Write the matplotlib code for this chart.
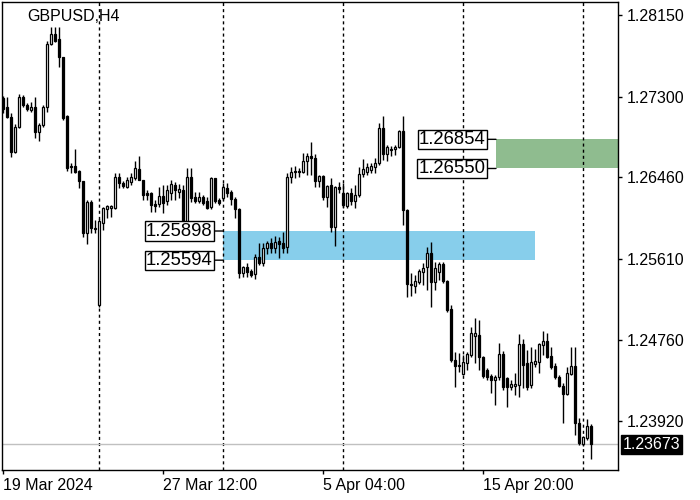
import numpy as np
import matplotlib.pyplot as plt

plt.rcParams['font.family'] = ['Liberation Sans', 'DejaVu Sans']

symbol_title = "GBPUSD,H4"

# H4 bars (one entry per bar)
opens = [1.27284, 1.27190, 1.27086, 1.26721, 1.26982, 1.27295, 1.27211, 1.27159, 1.27190, 1.26930,
         1.27003, 1.27190, 1.27847, 1.27951, 1.27899, 1.27712, 1.27096, 1.26575, 1.26575, 1.26523,
         1.26419, 1.25876, 1.26200, 1.25928, 1.25126, 1.25981, 1.26127, 1.26137, 1.26137, 1.26460,
         1.26398, 1.26356, 1.26408, 1.26450, 1.26544, 1.26429, 1.26293, 1.26293, 1.26179, 1.26179,
         1.26262, 1.26210, 1.26293, 1.26377, 1.26304, 1.26325, 1.25939, 1.26460, 1.26252, 1.26210,
         1.26252, 1.26210, 1.26147, 1.26450, 1.26220, 1.26241, 1.26346, 1.26304, 1.26231, 1.26127,
         1.25459, 1.25522, 1.25480, 1.25449, 1.25626, 1.25563, 1.25720, 1.25772, 1.25720, 1.25793,
         1.25772, 1.25730, 1.26460, 1.26523, 1.26523, 1.26512, 1.26627, 1.26679, 1.26658, 1.26419,
         1.26471, 1.26252, 1.26377, 1.25939, 1.26356, 1.26293, 1.26158, 1.26293, 1.26210, 1.26273,
         1.26492, 1.26512, 1.26533, 1.26565, 1.26606, 1.26971, 1.26700, 1.26752, 1.26752, 1.26773,
         1.26940, 1.26116, 1.25344, 1.25324, 1.25365, 1.25470, 1.25522, 1.25668, 1.25365, 1.25470,
         1.25553, 1.25376, 1.25084, 1.24552, 1.24500, 1.24406, 1.24521, 1.24604, 1.24802, 1.24813,
         1.24583, 1.24448, 1.24385, 1.24343, 1.24375, 1.24615, 1.24364, 1.24270, 1.24281, 1.24291,
         1.24719, 1.24521, 1.24291, 1.24510, 1.24531, 1.24708, 1.24750, 1.24594, 1.24489, 1.24375,
         1.24281, 1.24197, 1.24406, 1.24489, 1.23895, 1.23676, 1.23739, 1.23864]
highs = [1.27305, 1.27295, 1.27128, 1.27013, 1.27326, 1.27315, 1.27232, 1.27242, 1.27295, 1.27023,
         1.27211, 1.27879, 1.28024, 1.28024, 1.28024, 1.27712, 1.27107, 1.26606, 1.26752, 1.26533,
         1.26419, 1.26220, 1.26220, 1.26012, 1.26022, 1.26147, 1.26168, 1.26168, 1.26502, 1.26502,
         1.26419, 1.26460, 1.26502, 1.26627, 1.26679, 1.26429, 1.26325, 1.26304, 1.26220, 1.26356,
         1.26377, 1.26377, 1.26429, 1.26408, 1.26387, 1.26377, 1.26554, 1.26554, 1.26304, 1.26304,
         1.26273, 1.26252, 1.26460, 1.26450, 1.26241, 1.26398, 1.26398, 1.26325, 1.26252, 1.26137,
         1.25532, 1.25563, 1.25501, 1.25657, 1.25772, 1.25772, 1.25793, 1.25824, 1.25845, 1.25835,
         1.25887, 1.26502, 1.26565, 1.26575, 1.26554, 1.26711, 1.26711, 1.26825, 1.26700, 1.26481,
         1.26481, 1.26377, 1.26450, 1.26366, 1.26408, 1.26398, 1.26304, 1.26346, 1.26377, 1.26565,
         1.26648, 1.26606, 1.26606, 1.26658, 1.27023, 1.27096, 1.26794, 1.26784, 1.26794, 1.26950,
         1.27096, 1.26127, 1.25459, 1.25438, 1.25501, 1.25563, 1.25730, 1.25782, 1.25574, 1.25574,
         1.25574, 1.25386, 1.25126, 1.24635, 1.24625, 1.24604, 1.24635, 1.24896, 1.24990, 1.24969,
         1.24594, 1.24469, 1.24406, 1.24396, 1.24729, 1.24646, 1.24375, 1.24343, 1.24416, 1.24823,
         1.24771, 1.24656, 1.24688, 1.24667, 1.24729, 1.24854, 1.24834, 1.24688, 1.24521, 1.24396,
         1.24312, 1.24479, 1.24688, 1.24688, 1.23947, 1.23759, 1.23937, 1.23885]
lows = [1.27128, 1.27076, 1.26669, 1.26711, 1.26971, 1.27190, 1.27149, 1.27138, 1.26867, 1.26836,
        1.26982, 1.27138, 1.27837, 1.27868, 1.27607, 1.27055, 1.26523, 1.26502, 1.26502, 1.26346,
        1.25835, 1.25762, 1.25876, 1.25876, 1.25105, 1.25908, 1.26033, 1.26043, 1.26127, 1.26346,
        1.26346, 1.26346, 1.26377, 1.26429, 1.26429, 1.26220, 1.26220, 1.26095, 1.26095, 1.26147,
        1.26085, 1.26168, 1.26220, 1.26220, 1.26241, 1.25887, 1.25908, 1.26200, 1.26189, 1.26189,
        1.26168, 1.26127, 1.26127, 1.26189, 1.26168, 1.26220, 1.26252, 1.26168, 1.26033, 1.25407,
        1.25417, 1.25417, 1.25417, 1.25397, 1.25543, 1.25532, 1.25657, 1.25668, 1.25668, 1.25616,
        1.25668, 1.25668, 1.26398, 1.26450, 1.26460, 1.26502, 1.26481, 1.26481, 1.26356, 1.26356,
        1.26220, 1.26147, 1.25887, 1.25741, 1.26293, 1.26137, 1.26137, 1.26168, 1.26137, 1.26252,
        1.26460, 1.26481, 1.26502, 1.26502, 1.26585, 1.26638, 1.26627, 1.26679, 1.26690, 1.26763,
        1.25960, 1.25209, 1.25219, 1.25251, 1.25344, 1.25334, 1.25282, 1.25105, 1.25282, 1.25386,
        1.25355, 1.25053, 1.24531, 1.24270, 1.24427, 1.24396, 1.24448, 1.24583, 1.24521, 1.24448,
        1.24364, 1.24343, 1.24208, 1.24083, 1.24343, 1.24239, 1.24062, 1.24239, 1.24187, 1.24166,
        1.24260, 1.24239, 1.24260, 1.24479, 1.24416, 1.24604, 1.24573, 1.24458, 1.24354, 1.24270,
        1.23895, 1.24187, 1.24396, 1.23770, 1.23666, 1.23655, 1.23718, 1.23520]
closes = [1.27169, 1.27086, 1.26721, 1.26982, 1.27295, 1.27211, 1.27169, 1.27190, 1.26930, 1.27003,
          1.27190, 1.27847, 1.27951, 1.27879, 1.27712, 1.27076, 1.26554, 1.26565, 1.26512, 1.26419,
          1.25876, 1.26200, 1.25928, 1.25918, 1.26001, 1.26137, 1.26158, 1.26158, 1.26460, 1.26398,
          1.26366, 1.26429, 1.26460, 1.26554, 1.26429, 1.26273, 1.26273, 1.26168, 1.26158, 1.26262,
          1.26189, 1.26325, 1.26387, 1.26325, 1.26335, 1.25908, 1.26460, 1.26241, 1.26210, 1.26252,
          1.26189, 1.26137, 1.26450, 1.26210, 1.26189, 1.26356, 1.26293, 1.26231, 1.26127, 1.25459,
          1.25522, 1.25470, 1.25438, 1.25626, 1.25563, 1.25720, 1.25772, 1.25720, 1.25782, 1.25762,
          1.25720, 1.26460, 1.26512, 1.26512, 1.26512, 1.26627, 1.26679, 1.26658, 1.26419, 1.26471,
          1.26252, 1.26366, 1.25939, 1.26356, 1.26335, 1.26168, 1.26293, 1.26210, 1.26273, 1.26492,
          1.26544, 1.26565, 1.26575, 1.26606, 1.26971, 1.26700, 1.26773, 1.26742, 1.26773, 1.26940,
          1.26116, 1.25344, 1.25334, 1.25376, 1.25480, 1.25511, 1.25668, 1.25365, 1.25511, 1.25553,
          1.25376, 1.25073, 1.24552, 1.24489, 1.24489, 1.24531, 1.24615, 1.24834, 1.24834, 1.24583,
          1.24385, 1.24375, 1.24343, 1.24375, 1.24615, 1.24270, 1.24270, 1.24302, 1.24302, 1.24719,
          1.24500, 1.24270, 1.24531, 1.24542, 1.24719, 1.24750, 1.24583, 1.24479, 1.24375, 1.24281,
          1.24197, 1.24416, 1.24489, 1.23895, 1.23686, 1.23749, 1.23864, 1.23673]

date_tick_idx = [0, 40, 80, 120]
date_tick_labels = ["19 Mar 2024", "27 Mar 12:00", "5 Apr 04:00", "15 Apr 20:00"]
week_sep_idx = [24, 55, 85, 115, 145]

price_ticks = [1.28150, 1.27300, 1.26460, 1.25610, 1.24760, 1.23920]
price_tick_labels = ["1.28150", "1.27300", "1.26460", "1.25610", "1.24760", "1.23920"]

# zones: low, high, first bar, last bar
blue_zone = (1.25594, 1.25898, 55, 133)
green_zone = (1.26550, 1.26854, 123.25, 154)
last_price = 1.23673

fig = plt.figure(figsize=(7, 5), dpi=100)
ax = fig.add_axes([2 / 700, 30 / 500, 616 / 700, 468 / 500])
ax.set_xlim(-0.25, 153.75)
ax.set_ylim(1.23406, 1.28286)

# zones
for (lo, hi, x0, x1), col in [(blue_zone, "#87ceeb"), (green_zone, "#8fbc8f")]:
    ax.fill_between([x0, x1], lo, hi, color=col, lw=0, zorder=1)
    for p in (hi, lo):
        ax.annotate("%.5f" % p, xy=(x0, p), xytext=(-7.5, 0), textcoords="offset points",
                    ha="right", va="center", fontsize=13.3, color="black", zorder=6,
                    bbox=dict(boxstyle="square,pad=0.06", fc="white", ec="black", lw=1),
                    arrowprops=dict(arrowstyle="-", lw=1, color="black", shrinkA=0, shrinkB=0))

# weekly separators
for i in week_sep_idx:
    ax.axvline(i, color="black", lw=1, linestyle=(0, (2.2, 2.2)), zorder=2)

# last price line
ax.axhline(last_price, color="#c0c0c0", lw=1, zorder=2)

# candles
o = np.array(opens)
h = np.array(highs)
l = np.array(lows)
c = np.array(closes)
idx = np.arange(len(o))
ax.vlines(idx, l, h, color="black", lw=1, zorder=3)
bull = c >= o
body_lo = np.minimum(o, c)
body_h = np.maximum(np.abs(c - o), 0.00006)
ax.bar(idx[bull], body_h[bull], bottom=body_lo[bull], width=0.55, color="white",
       edgecolor="black", lw=0.9, zorder=4)
ax.bar(idx[~bull], body_h[~bull], bottom=body_lo[~bull], width=0.55, color="black",
       edgecolor="black", lw=0.9, zorder=4)

# axes styling
for s in ax.spines.values():
    s.set_color("black")
    s.set_linewidth(1)
ax.yaxis.tick_right()
ax.set_yticks(price_ticks)
ax.set_yticklabels(price_tick_labels)
ax.tick_params(axis="y", length=3, width=1, pad=3, labelsize=11.5, colors="black")
ax.set_xticks(date_tick_idx)
ax.set_xticklabels(date_tick_labels, ha="left")
ax.tick_params(axis="x", length=3, width=1, pad=3, labelsize=11.5, colors="black")

ax.annotate("%.5f" % last_price, xy=(1, last_price), xycoords=("axes fraction", "data"),
            xytext=(3.5, 0), textcoords="offset points", ha="left", va="center",
            fontsize=11.5, color="white", annotation_clip=False,
            bbox=dict(boxstyle="square,pad=0.12", fc="black", ec="black"))

ax.text(0.0406, 0.970, symbol_title, transform=ax.transAxes, fontsize=11.5,
        ha="left", va="center", color="black")

fig.savefig("out.png", dpi=100)
